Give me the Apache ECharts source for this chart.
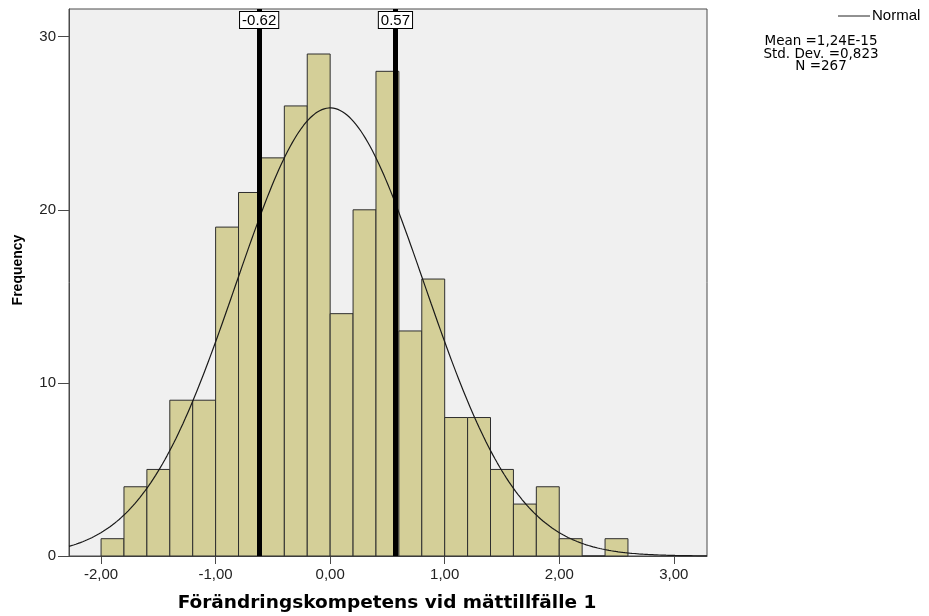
<!DOCTYPE html>
<html>
<head>
<meta charset="utf-8">
<title>Förändringskompetens vid mättillfälle 1</title>
<script src="https://cdn.jsdelivr.net/npm/echarts@6/dist/echarts.min.js"></script>
<style>
  html, body { margin: 0; padding: 0; background: #ffffff; }
  #chart { width: 929px; height: 616px; }
</style>
</head>
<body>
<div id="chart"></div>
<script>
// Histogram bins: lower edge of each bin and its frequency
const binStarts = [-2.0, -1.8, -1.6, -1.4, -1.2, -1.0, -0.8, -0.6, -0.4, -0.2,
                   0.0, 0.2, 0.4, 0.6, 0.8, 1.0, 1.2, 1.4, 1.6, 1.8, 2.0, 2.2, 2.4];
const binCounts = [1, 4, 5, 9, 9, 19, 21, 23, 26, 29,
                   14, 20, 28, 13, 16, 8, 8, 5, 3, 4, 1, 0, 1];
const binWidth = 0.2;

// Summary statistics shown beside the plot (used for the fitted normal curve)
const MEAN = 1.24e-15;
const SD = 0.823;
const N = 267;

// Reference lines
const refLines = [-0.62, 0.57];

// Axis ticks
const xTicks = [-2, -1, 0, 1, 2, 3];
const yTicks = [0, 10, 20, 30];
const xRange = [-2.28, 3.29];
const yRange = [0, 31.6];

const barData = binStarts.map((s, i) => [s, s + binWidth, binCounts[i]]);

// Fitted normal density scaled to frequency per bin
const curveData = [];
const steps = 280;
for (let k = 0; k <= steps; k++) {
  const x = xRange[0] + (xRange[1] - xRange[0]) * k / steps;
  const z = (x - MEAN) / SD;
  const y = N * binWidth / (SD * Math.sqrt(2 * Math.PI)) * Math.exp(-0.5 * z * z);
  curveData.push([x, y]);
}

const fmtComma = v => v.toFixed(2).replace('.', ',');
const FONT = "'Liberation Sans', Arial, sans-serif";

const chart = echarts.init(document.getElementById('chart'), null, { renderer: 'canvas' });

chart.setOption({
  animation: false,
  backgroundColor: '#ffffff',
  grid: {
    left: 69, top: 9, right: 222, bottom: 60,
    show: true,
    backgroundColor: '#f0f0f0',
    borderColor: '#4a4a4a',
    borderWidth: 1
  },
  xAxis: {
    type: 'value',
    min: xRange[0],
    max: xRange[1],
    splitLine: { show: false },
    axisLine: { show: true, onZero: false, lineStyle: { color: '#4a4a4a', width: 1 } },
    axisTick: { show: true, customValues: xTicks, length: 8, lineStyle: { color: '#4a4a4a' } },
    axisLabel: {
      customValues: xTicks,
      formatter: fmtComma,
      margin: 11,
      color: '#222',
      fontFamily: FONT,
      fontSize: 15
    }
  },
  yAxis: {
    type: 'value',
    min: yRange[0],
    max: yRange[1],
    splitLine: { show: false },
    axisLine: { show: true, onZero: false, lineStyle: { color: '#4a4a4a', width: 1 } },
    axisTick: { show: true, customValues: yTicks, length: 11, lineStyle: { color: '#4a4a4a' } },
    axisLabel: {
      customValues: yTicks,
      margin: 13,
      color: '#222',
      fontFamily: FONT,
      fontSize: 15
    }
  },
  series: [
    {
      type: 'custom',
      name: 'Frequency',
      data: barData,
      encode: { x: [0, 1], y: 2 },
      renderItem: function (params, api) {
        const p0 = api.coord([api.value(0), api.value(2)]);
        const p1 = api.coord([api.value(1), 0]);
        return {
          type: 'rect',
          shape: { x: p0[0], y: p0[1], width: p1[0] - p0[0], height: p1[1] - p0[1] },
          style: { fill: '#d4cf98', stroke: '#2e2e2e', lineWidth: 1 }
        };
      },
      z: 2
    },
    {
      type: 'line',
      name: 'Normal',
      data: curveData,
      showSymbol: false,
      symbol: 'none',
      smooth: false,
      lineStyle: { color: '#1a1a1a', width: 1.2 },
      z: 3,
      markLine: {
        silent: true,
        symbol: ['none', 'none'],
        animation: false,
        lineStyle: { color: '#000', width: 5, type: 'solid' },
        label: {
          show: true,
          position: 'end',
          distance: -19,
          formatter: p => String(p.value),
          color: '#000',
          fontFamily: FONT,
          fontSize: 15,
          backgroundColor: '#ffffff',
          borderColor: '#000',
          borderWidth: 1,
          padding: [1, 2, 0, 2]
        },
        data: refLines.map(v => ({ xAxis: v }))
      }
    }
  ],
  graphic: [
    {
      type: 'text',
      x: 18, y: 270,
      rotation: Math.PI / 2,
      style: {
        text: 'Frequency',
        align: 'center',
        verticalAlign: 'middle',
        font: "bold 14px " + FONT,
        fill: '#000'
      }
    },
    {
      type: 'text',
      x: 387, y: 603,
      style: {
        text: 'Förändringskompetens vid mättillfälle 1',
        align: 'center',
        verticalAlign: 'middle',
        font: "bold 18.5px 'DejaVu Sans', sans-serif",
        fill: '#000'
      }
    },
    {
      type: 'line',
      shape: { x1: 838, y1: 16, x2: 870, y2: 16 },
      style: { stroke: '#222', lineWidth: 1 }
    },
    {
      type: 'text',
      x: 872, y: 16,
      style: {
        text: 'Normal',
        align: 'left',
        verticalAlign: 'middle',
        font: "15px " + FONT,
        fill: '#000'
      }
    },
    {
      type: 'text',
      x: 821, y: 54,
      style: {
        text: 'Mean =1,24E-15\nStd. Dev. =' + SD.toFixed(3).replace('.', ',') + '\nN =' + N,
        align: 'center',
        verticalAlign: 'middle',
        lineHeight: 12.5,
        font: "13.5px 'DejaVu Sans', sans-serif",
        fill: '#000'
      }
    }
  ]
});
</script>
</body>
</html>
